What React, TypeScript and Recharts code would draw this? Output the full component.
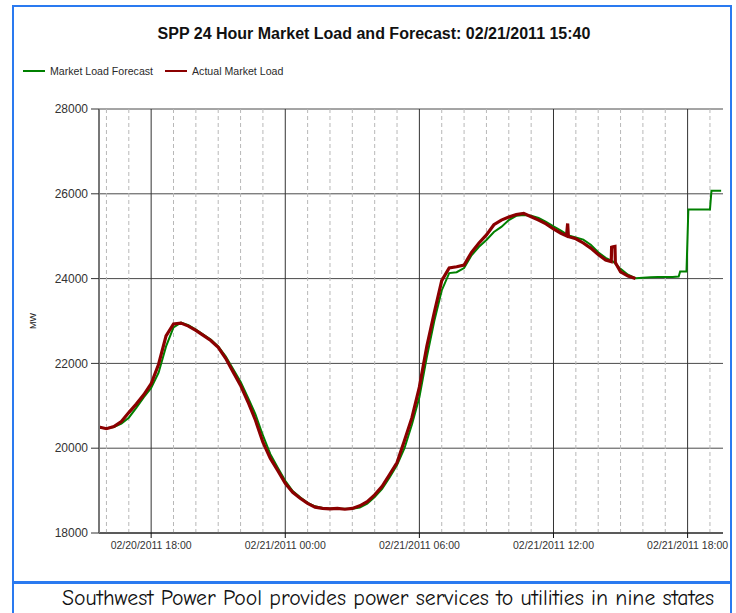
import React from "react";
import { LineChart, Line, XAxis, YAxis, CartesianGrid, ReferenceLine } from "recharts";

// readings every 20 minutes, t = minutes after 02/20/2011 15:40
const STEP = 20;

const actualLoad = [
  20500, 20460, 20510, 20630, 20840, 21040, 21260, 21520, 21980, 22650,
  22930, 22950, 22880, 22780, 22660, 22540, 22380, 22120, 21800, 21480,
  21090, 20660, 20140, 19760, 19470, 19170, 18960, 18820, 18700, 18610,
  18580, 18570, 18580, 18560, 18580, 18640, 18740, 18900, 19100, 19380,
  19660, 20180, 20720, 21440, 22400, 23200, 23950, 24250, 24280, 24320,
  24620, 24840, 25030, 25270, 25380, 25450, 25510, 25540, 25460, 25380,
  25290, 25170, 25070, 24990, 24940, 24840, 24720, 24570, 24440, 24370,
  24160, 24060, 24000,
];
// short spikes in the actual feed
const actualSpikeTime = [1255, 1258, 1375, 1376, 1380, 1385, 1386];
const actualSpikeLoad = [25010, 25300, 24400, 24740, 24750, 24760, 24380];

const forecastLoad = [
  20480, 20470, 20500, 20580, 20720, 20950, 21200, 21420, 21780, 22400,
  22850, 22960, 22900, 22800, 22680, 22560, 22400, 22170, 21870, 21570,
  21190, 20800, 20300, 19860, 19540, 19230, 18990, 18840, 18710, 18630,
  18590, 18580, 18570, 18570, 18570, 18600, 18690, 18850, 19040, 19310,
  19600, 20000, 20560, 21200, 22150, 23000, 23720, 24130, 24150, 24250,
  24550, 24750, 24910, 25100, 25220, 25380, 25480, 25500, 25480, 25430,
  25340, 25230, 25130, 25020, 24970, 24920, 24800, 24620, 24490, 24400,
  24230, 24090, 24010,
];
const forecastTailTime = [1460, 1480, 1500, 1520, 1540, 1556, 1560, 1577, 1582, 1640, 1644, 1670];
const forecastTailLoad = [24020, 24030, 24040, 24040, 24040, 24050, 24170, 24170, 25630, 25630, 26070, 26070];

const majorTicks = [140, 500, 860, 1220, 1580];
const majorTickLabels = [
  "02/20/2011 18:00",
  "02/21/2011 00:00",
  "02/21/2011 06:00",
  "02/21/2011 12:00",
  "02/21/2011 18:00",
];
const hourMarks = Array.from({ length: 28 }, (_, k) => 20 + 60 * k);
const yTicks = [18000, 20000, 22000, 24000, 26000, 28000];

const actualMap = new Map<number, number>(actualLoad.map((mw, i) => [i * STEP, mw]));
actualSpikeTime.forEach((t, i) => actualMap.set(t, actualSpikeLoad[i]));
const actualData = [...actualMap.entries()]
  .sort((a, b) => a[0] - b[0])
  .map(([t, mw]) => ({ t, mw }));

const forecastData = [
  ...forecastLoad.map((mw, i) => ({ t: i * STEP, mw })),
  ...forecastTailTime.map((t, i) => ({ t, mw: forecastTailLoad[i] })),
];

const FONT = "'Liberation Sans', Arial, sans-serif";
const BLUE = "#2a7af0";

export default function App() {
  return (
    <div style={{ position: "absolute", left: 0, top: 0, width: 736, height: 613, overflow: "hidden", background: "#fff", fontFamily: FONT }}>
      {/* chart frame */}
      <div style={{ position: "absolute", left: 12, top: 5, width: 720, height: 578, boxSizing: "border-box", border: `2px solid ${BLUE}` }} />
      {/* footer box */}
      <div style={{ position: "absolute", left: 12, top: 583, width: 720, height: 40, boxSizing: "border-box", borderLeft: `2px solid ${BLUE}`, borderRight: `2px solid ${BLUE}`, borderTop: `1px solid ${BLUE}` }} />
      <div style={{ position: "absolute", left: 62, top: 586, fontSize: 21.8, lineHeight: "24px", whiteSpace: "nowrap", color: "#111", fontFamily: "'Comic Sans MS', 'Comic Neue', 'DejaVu Sans', sans-serif" }}>
        Southwest Power Pool provides power services to utilities in nine states
      </div>

      <div style={{ position: "absolute", left: 14, width: 720, top: 25, textAlign: "center", fontSize: 16, fontWeight: "bold", color: "#111" }}>
        SPP 24 Hour Market Load and Forecast: 02/21/2011 15:40
      </div>

      {/* legend */}
      <div style={{ position: "absolute", left: 23, top: 65, fontSize: 10.6, color: "#2a2a2a", display: "flex", alignItems: "center", whiteSpace: "nowrap" }}>
        <span style={{ display: "inline-block", width: 22, height: 2, background: "#008000", marginRight: 5 }} />
        <span style={{ marginRight: 12 }}>Market Load Forecast</span>
        <span style={{ display: "inline-block", width: 22, height: 2, background: "#8b0000", marginRight: 5 }} />
        <span>Actual Market Load</span>
      </div>

      <div style={{ position: "absolute", left: 25, top: 316, fontSize: 9, color: "#222", transform: "rotate(-90deg)", transformOrigin: "center" }}>
        MW
      </div>

      <div style={{ position: "absolute", left: 0, top: 0 }}>
        <LineChart width={736} height={560} margin={{ top: 109, right: 13, bottom: 7, left: 39 }}>
          <CartesianGrid vertical={false} stroke="#4a4a4a" />
          {hourMarks
            .filter((h) => !majorTicks.includes(h))
            .map((h) => (
              <ReferenceLine key={`m${h}`} x={h} stroke="#b8b8b8" strokeDasharray="4 3" />
            ))}
          {majorTicks.map((h) => (
            <ReferenceLine key={`M${h}`} x={h} stroke="#333" />
          ))}
          <XAxis
            type="number"
            dataKey="t"
            domain={[0, 1675]}
            ticks={majorTicks}
            interval={0}
            tickFormatter={(v: number) => majorTickLabels[majorTicks.indexOf(v)]}
            height={20}
            tickSize={5}
            tickMargin={4}
            axisLine={{ stroke: "#111" }}
            tickLine={{ stroke: "#111" }}
            tick={{ fontSize: 10.5, fill: "#333", fontFamily: FONT }}
          />
          <YAxis
            type="number"
            domain={[18000, 28000]}
            ticks={yTicks}
            interval={0}
            width={60}
            tickSize={8}
            tickMargin={3}
            axisLine={{ stroke: "#777", strokeWidth: 2 }}
            tickLine={{ stroke: "#333" }}
            tick={{ fontSize: 12, fill: "#333", fontFamily: FONT }}
          />
          <Line data={forecastData} dataKey="mw" type="linear" stroke="#008000" strokeWidth={2} dot={false} isAnimationActive={false} />
          <Line data={actualData} dataKey="mw" type="linear" stroke="#8b0000" strokeWidth={3.2} dot={false} isAnimationActive={false} />
        </LineChart>
      </div>
    </div>
  );
}
